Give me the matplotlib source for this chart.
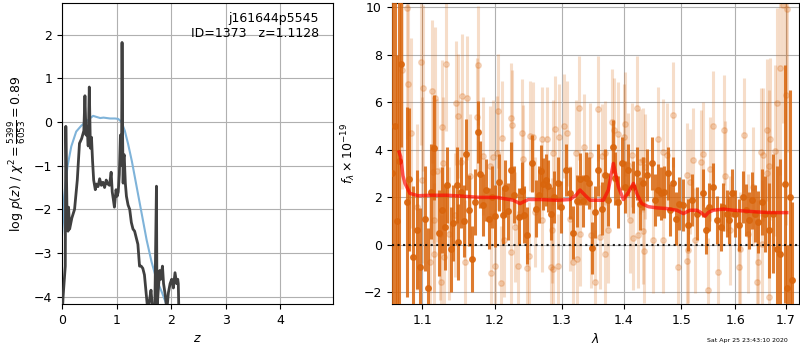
import matplotlib
matplotlib.use("Agg")
import matplotlib.pyplot as plt

plt.rcParams['font.size'] = 9

# ---- p(z) panel ----
pz_z = [0.00, 0.02, 0.06, 0.07, 0.09, 0.11, 0.12, 0.14, 0.18, 0.23, 0.28, 0.32, 0.36,
        0.40, 0.42, 0.44, 0.46, 0.48, 0.50, 0.52, 0.54, 0.56, 0.58, 0.61, 0.63, 0.66,
        0.69, 0.72, 0.75, 0.78, 0.81, 0.84, 0.87, 0.90, 0.92, 0.94, 0.96, 0.99, 1.01,
        1.03, 1.05, 1.07, 1.09, 1.10, 1.11, 1.12, 1.13, 1.14, 1.15, 1.16, 1.18, 1.21,
        1.24, 1.27, 1.30, 1.33, 1.36, 1.39, 1.42, 1.45, 1.48, 1.51, 1.54, 1.57, 1.60,
        1.63, 1.66, 1.70, 1.73, 1.74, 1.76, 1.79, 1.81, 1.84, 1.86, 1.89, 1.92, 1.95,
        1.98, 2.01, 2.04, 2.07, 2.10, 2.12, 2.13, 2.14]
pz_log = [-4.5, -4.0, -3.3, -0.1, -1.93, -2.5, -1.95, -2.45, -2.2, -2.0, -1.33, -0.49, -0.38,
          -0.2, 0.6, -0.3, -0.1, -0.55, 0.8, -0.6, -0.35, -0.9, -1.33, -1.55, -1.42, -1.48,
          -1.3, -1.45, -1.38, -1.5, -1.33, -1.42, -1.45, -1.15, -1.6, -1.77, -1.95, -1.55, -1.7,
          -1.6, -1.2, -0.3, -1.0, 1.82, -0.3, -1.4, -0.8, -0.75, -1.1, -1.4, -1.7, -1.9,
          -2.0, -2.3, -2.45, -2.5, -2.65, -2.8, -3.3, -3.3, -3.35, -3.5, -3.9, -4.3, -4.1,
          -3.85, -4.3, -4.3, -1.47, -4.3, -3.9, -3.4, -3.6, -3.3, -3.7, -3.95, -4.3, -3.9,
          -3.7, -3.6, -3.8, -3.45, -3.7, -3.6, -3.7, -4.3]

prior_z = [0.00, 0.02, 0.04, 0.10, 0.17, 0.26, 0.35, 0.47, 0.57, 0.62, 0.70, 0.76, 0.88,
           0.97, 1.03, 1.09, 1.15, 1.21, 1.28, 1.37, 1.46, 1.55, 1.64, 1.73, 1.83, 1.92, 1.97]
prior_log = [-2.6, -2.25, -1.7, -1.02, -0.56, -0.22, -0.09, 0.04, 0.14, 0.12, 0.09, 0.1, 0.08,
             0.08, 0.07, 0.0, -0.2, -0.5, -0.9, -1.5, -2.1, -2.7, -3.2, -3.6, -3.9, -4.2, -4.4]

# ---- spectrum panel ----
dark_wave = [1.0615, 1.0645, 1.0675, 1.0700, 1.0723, 1.0797, 1.0831, 1.0875, 1.0935, 1.0970,
             1.1036, 1.1080, 1.1116, 1.1160, 1.1227, 1.1267, 1.1303, 1.1335, 1.1381, 1.1417,
             1.1463, 1.1485, 1.1527, 1.1564, 1.1595, 1.1637, 1.1679, 1.1721, 1.1755, 1.1791,
             1.1834, 1.1872, 1.1911, 1.1954, 1.2005, 1.2063, 1.2112, 1.2146, 1.2193, 1.2229,
             1.2282, 1.2355, 1.2395, 1.2430, 1.2474, 1.2550, 1.2601, 1.2645, 1.2676, 1.2716,
             1.2757, 1.2791, 1.2834, 1.2880, 1.2946, 1.2988, 1.3066, 1.3128, 1.3181, 1.3234,
             1.3287, 1.3329, 1.3378, 1.3431, 1.3484, 1.3528, 1.3581, 1.3646, 1.3690, 1.3745,
             1.3818, 1.3856, 1.3911, 1.3968, 1.4023, 1.4079, 1.4152, 1.4221, 1.4277, 1.4333,
             1.4401, 1.4478, 1.4535, 1.4593, 1.4640, 1.4693, 1.4758, 1.4799, 1.4847, 1.4906,
             1.4960, 1.5037, 1.5128, 1.5189, 1.5280, 1.5391, 1.5451, 1.5513, 1.5586, 1.5650,
             1.5725, 1.5774, 1.5839, 1.5888, 1.5934, 1.5996, 1.6080, 1.6157, 1.6209, 1.6274,
             1.6319, 1.6385, 1.6449, 1.6517, 1.6583, 1.6668, 1.6748, 1.6829, 1.6883, 1.6984,
             1.7020, 1.7087, 1.7128]
dark_flux = [3.0, 5.0, 1.0, 3.5, 7.62, 1.80, 2.75, -0.52, 0.63, -0.95,
             1.10, -1.80, 2.22, 4.08, 0.50, 1.45, 0.75, 2.50, -0.20, 0.91,
             2.50, 0.11, 2.20, 1.00, 3.80, 1.45, -0.60, 1.80, 4.73, 2.96,
             1.66, 2.30, 1.10, 2.00, 1.20, 2.62, 1.24, 2.37, 1.41, 3.14,
             2.11, 1.17, 2.27, 1.27, 0.39, 3.42, 1.52, 2.11, 3.11, 2.55,
             2.72, 2.46, 1.31, 2.01, 2.60, 1.59, 3.14, 2.18, 0.51, 1.83,
             2.76, 1.83, 2.79, 2.60, -0.13, 1.38, 3.14, 1.52, 2.93, 1.90,
             4.13, 2.79, 1.80, 3.42, 2.44, 3.14, 2.44, 3.00, 1.73, 2.58,
             2.93, 3.42, 1.87, 2.30, 2.16, 2.22, 3.00, 1.45, 2.58, 1.10,
             1.73, 1.66, 0.82, 1.87, 1.31, 2.18, 0.60, 1.59, 2.44, 1.03,
             0.75, 1.59, 1.31, 1.03, 2.18, 1.31, 0.82, 2.01, 1.45, 1.03,
             1.87, 1.31, 0.96, 1.80, 1.31, 0.60, 1.31, -0.17, -0.38, 2.55,
             -1.8, 2.0, -1.5]
dark_err = [8.0, 8.0, 7.0, 7.0, 3.5, 4.0, 3.0, 3.0, 2.5, 2.5,
            2.2, 2.5, 2.0, 2.2, 1.8, 1.8, 1.8, 1.6, 1.8, 1.6,
            1.6, 1.6, 1.5, 1.5, 1.5, 1.5, 1.4, 1.4, 1.3, 1.4,
            1.3, 1.3, 1.3, 1.3, 1.3, 1.2, 1.2, 1.2, 1.2, 1.2,
            1.2, 1.2, 1.2, 1.2, 1.2, 1.2, 1.2, 1.2, 1.1, 1.1,
            1.1, 1.1, 1.1, 1.1, 1.1, 1.1, 1.1, 1.1, 1.1, 1.1,
            1.1, 1.1, 1.1, 1.1, 1.1, 1.1, 1.1, 1.1, 1.1, 1.1,
            1.1, 1.1, 1.1, 1.1, 1.1, 1.1, 1.1, 1.1, 1.1, 1.1,
            1.1, 1.1, 1.1, 1.1, 1.1, 1.1, 1.1, 1.1, 1.1, 1.1,
            1.1, 1.1, 1.1, 1.1, 1.1, 1.0, 1.0, 1.0, 1.0, 1.0,
            1.0, 1.0, 1.0, 1.0, 1.0, 1.0, 1.1, 1.1, 1.1, 1.2,
            1.2, 1.2, 1.3, 1.4, 1.6, 2.0, 2.5, 3.5, 4.0, 5.0,
            1.8, 4.5, 3.3]

light_wave = [1.0733, 1.0797, 1.0810, 1.0852, 1.0926, 1.0983, 1.0997, 1.1013, 1.1103, 1.1133,
              1.1146, 1.1150, 1.1160, 1.1170, 1.1192, 1.1236, 1.1249, 1.1267, 1.1281, 1.1290,
              1.1317, 1.1362, 1.1440, 1.1453, 1.1476, 1.1518, 1.1540, 1.1581, 1.1609, 1.1647,
              1.1749, 1.1763, 1.1834, 1.1929, 1.1940, 1.1977, 1.1997, 1.2035, 1.2049, 1.2083,
              1.2097, 1.2136, 1.2229, 1.2235, 1.2243, 1.2292, 1.2340, 1.2391, 1.2406, 1.2474,
              1.2504, 1.2514, 1.2564, 1.2590, 1.2692, 1.2700, 1.2767, 1.2829, 1.2844, 1.2860,
              1.2869, 1.2896, 1.2937, 1.2957, 1.3039, 1.3077, 1.3128, 1.3181, 1.3223, 1.3234,
              1.3277, 1.3287, 1.3356, 1.3448, 1.3455, 1.3528, 1.3581, 1.3608, 1.3637, 1.3690,
              1.3698, 1.3745, 1.3811, 1.3839, 1.3911, 1.4012, 1.4023, 1.4079, 1.4107, 1.4135,
              1.4152, 1.4221, 1.4248, 1.4277, 1.4323, 1.4330, 1.4346, 1.4363, 1.4507, 1.4594,
              1.4671, 1.4682, 1.4741, 1.4847, 1.4947, 1.5099, 1.5109, 1.5127, 1.5158, 1.5207,
              1.5249, 1.5359, 1.5402, 1.5495, 1.5526, 1.5587, 1.5681, 1.5794, 1.5808, 1.5903,
              1.6080, 1.6094, 1.6177, 1.6255, 1.6340, 1.6419, 1.6451, 1.6498, 1.6517, 1.6537,
              1.6617, 1.6629, 1.6663, 1.6668, 1.6683, 1.6783, 1.6829, 1.6883, 1.6951, 1.6999,
              1.7020]
light_flux = [7.33, 9.94, 6.77, 4.69, 1.59, 7.69, 2.72, 6.60, -0.74, 6.45,
              3.07, 1.03, -0.41, 6.17, 3.11, 0.47, -1.55, 4.95, 3.42, -0.52,
              7.58, 0.47, 1.24, 5.96, 5.42, 3.49, 6.26, -0.71, 6.17, 2.89,
              5.37, 7.54, 3.73, 3.32, -1.17, 3.70, -0.88, 3.85, 5.64, -1.62,
              4.48, 0.18, 5.33, -0.31, 5.03, 0.75, -0.90, 4.69, 3.59, -0.99,
              -0.49, 4.58, 4.55, 1.38, 4.44, 1.06, 4.44, -0.95, 0.60, 3.87,
              -1.01, 4.88, -0.89, 4.55, 5.00, 4.69, 1.10, -0.71, 3.87, -0.61,
              5.75, 0.47, 4.13, 3.78, 0.39, -1.58, 5.72, 0.32, 3.73, 3.85,
              -0.38, 0.60, 5.18, 4.83, 4.66, 4.55, 5.07, 3.35, 1.03, 3.78,
              0.28, 5.75, 0.39, 3.49, 3.56, 0.56, -0.27, 3.28, 0.18, 4.44,
              0.18, 3.92, 3.78, 5.47, -0.92, 2.93, -0.69, -0.24, 2.65, 3.56,
              0.18, 3.47, 3.82, -1.90, 3.18, 5.00, -1.16, 4.83, 2.89, 0.60,
              -0.95, -0.17, 4.62, 0.47, 2.44, -1.58, -0.74, 3.89, 0.04, 3.78,
              3.00, 4.83, 3.31, -2.21, 4.44, 3.95, 5.96, 7.44, 10.1, 6.31,
              9.90]
light_err = [5.0, 5.5, 4.5, 4.0, 3.5, 3.5, 3.5, 3.5, 3.0, 3.0,
             3.0, 3.0, 3.0, 3.0, 3.0, 2.8, 2.8, 2.8, 2.8, 2.8,
             2.8, 2.8, 2.6, 2.6, 2.6, 2.6, 2.6, 2.6, 2.6, 2.6,
             2.5, 2.5, 2.5, 2.5, 2.5, 2.4, 2.4, 2.4, 2.4, 2.4,
             2.4, 2.4, 2.3, 2.3, 2.3, 2.3, 2.3, 2.3, 2.3, 2.3,
             2.3, 2.3, 2.3, 2.3, 2.2, 2.2, 2.2, 2.2, 2.2, 2.2,
             2.2, 2.2, 2.2, 2.2, 2.2, 2.2, 2.2, 2.2, 2.2, 2.2,
             2.2, 2.2, 2.2, 2.2, 2.2, 2.2, 2.2, 2.2, 2.2, 2.2,
             2.2, 2.2, 2.2, 2.2, 2.2, 2.2, 2.2, 2.2, 2.2, 2.2,
             2.2, 2.2, 2.2, 2.2, 2.2, 2.2, 2.2, 2.2, 2.2, 2.2,
             2.2, 2.2, 2.2, 2.2, 2.2, 2.2, 2.2, 2.2, 2.2, 2.2,
             2.2, 2.2, 2.2, 2.2, 2.2, 2.3, 2.3, 2.3, 2.3, 2.3,
             2.4, 2.4, 2.4, 2.5, 2.5, 2.6, 2.6, 2.7, 2.7, 2.8,
             3.0, 3.0, 3.2, 3.2, 3.4, 3.6, 4.0, 4.5, 5.0, 5.5,
             6.0]

model_wave = [1.0700, 1.0720, 1.0749, 1.0775, 1.0839, 1.0944, 1.1103, 1.1331, 1.1550, 1.1787,
              1.1929, 1.2030, 1.2170, 1.2267, 1.2366, 1.2415, 1.2490, 1.2666, 1.2921, 1.3128,
              1.3223, 1.3287, 1.3367, 1.3448, 1.3663, 1.3745, 1.3828, 1.3911, 1.3995, 1.4079,
              1.4164, 1.4230, 1.4306, 1.4420, 1.4566, 1.4741, 1.4918, 1.5037, 1.5158, 1.5281,
              1.5359, 1.5433, 1.5495, 1.5587, 1.5774, 1.5965, 1.6158, 1.6418, 1.6683, 1.7018]
model_flux = [3.9, 3.7, 2.9, 2.58, 2.16, 2.06, 2.08, 2.08, 2.04, 1.99,
              1.99, 1.99, 1.92, 1.87, 1.73, 1.80, 1.90, 1.90, 1.87, 1.90,
              2.08, 2.30, 2.08, 1.87, 1.87, 2.30, 3.42, 2.44, 1.90, 2.20,
              2.58, 2.10, 1.73, 1.60, 1.55, 1.52, 1.45, 1.31, 1.45, 1.45,
              1.35, 1.20, 1.36, 1.45, 1.50, 1.45, 1.42, 1.38, 1.35, 1.35]

orange = '#d9650c'

fig = plt.figure(figsize=(8, 3.5), dpi=100)
ax1 = fig.add_axes([0.0775, 0.131, 0.3385, 0.86])
ax2 = fig.add_axes([0.4896, 0.131, 0.5092, 0.86])

ax1.plot(prior_z, prior_log, color='#7fb3d9', lw=1.5, zorder=2)
ax1.plot(pz_z, pz_log, color='0.25', lw=2, zorder=3)
ax1.set_xlim(0, 4.96)
ax1.set_ylim(-4.17, 2.72)
ax1.set_xticks([0, 1, 2, 3, 4])
ax1.set_yticks([-4, -3, -2, -1, 0, 1, 2])
ax1.grid(True)
ax1.set_xlabel('$z$')
ax1.set_ylabel(r'log $p(z)$ / $\chi^2=\frac{5399}{6053}=0.89$')
ax1.text(0.95, 0.97, 'j161644p5545\nID=1373   z=1.1128', transform=ax1.transAxes,
         ha='right', va='top', fontsize=9)

ax2.errorbar(light_wave, light_flux, yerr=light_err, color=orange, alpha=0.22,
             marker='o', ms=4, linestyle='None', elinewidth=2.2, zorder=2)
ax2.errorbar(dark_wave, dark_flux, yerr=dark_err, color=orange, alpha=0.85,
             marker='o', ms=4, linestyle='None', elinewidth=2.2, zorder=3)
ax2.plot(model_wave, model_flux, color='r', alpha=0.65, lw=2.5, zorder=4)
ax2.axhline(0, color='k', linestyle=':', lw=1.5, alpha=0.85, zorder=5)
ax2.set_xscale('log')
ax2.set_xlim(1.0605, 1.727)
ax2.set_ylim(-2.5, 10.16)
ax2.set_xticks([1.1, 1.2, 1.3, 1.4, 1.5, 1.6, 1.7])
ax2.set_xticklabels(['1.1', '1.2', '1.3', '1.4', '1.5', '1.6', '1.7'])
ax2.xaxis.set_minor_locator(matplotlib.ticker.NullLocator())
ax2.set_yticks([-2, 0, 2, 4, 6, 8, 10])
ax2.grid(True)
ax2.set_xlabel(r'$\lambda$')
ax2.set_ylabel(r'$f_\lambda\times10^{-19}$')

fig.text(0.985, 0.02, 'Sat Apr 25 23:43:10 2020', ha='right', va='bottom', fontsize=4.5)

fig.savefig('out.png', dpi=100)
